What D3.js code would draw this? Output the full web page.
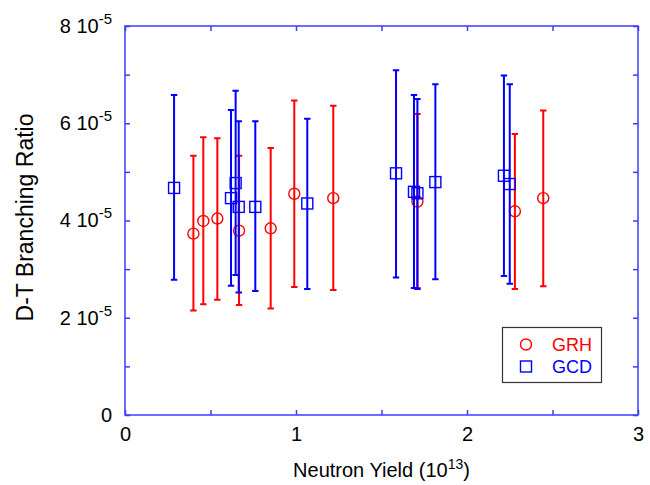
<!DOCTYPE html>
<html lang="en">
<head>
  <meta charset="UTF-8">
  <title>D-T Branching Ratio vs Neutron Yield</title>
  <script src="https://unpkg.com/d3@7/dist/d3.min.js"></script>
  <style>
    body { margin: 0; background: #fff; }
    svg text { font-family: "Liberation Sans", Arial, sans-serif; fill: #000; }
  </style>
</head>
<body>
  <svg id="chart" width="650" height="485"></svg>
  <script>
    // values, branching ratio in units of 1e-5
    const grhX  = [0.40, 0.458, 0.54, 0.667, 0.852, 0.99, 1.218, 1.71, 2.28, 2.446];
    const grhY  = [3.73, 3.99, 4.04, 3.79, 3.84, 4.55, 4.46, 4.39, 4.19, 4.46];
    const grhLo = [2.15, 2.28, 2.37, 2.26, 2.19, 2.63, 2.57, 2.61, 2.59, 2.65];
    const grhHi = [5.33, 5.71, 5.69, 5.33, 5.49, 6.47, 6.36, 6.19, 5.78, 6.26];

    const gcdX  = [0.287, 0.62, 0.647, 0.665, 0.762, 1.066, 1.585, 1.69, 1.71, 1.815, 2.216, 2.25];
    const gcdY  = [4.67, 4.46, 4.77, 4.28, 4.28, 4.35, 4.97, 4.59, 4.56, 4.79, 4.92, 4.75];
    const gcdLo = [2.78, 2.66, 2.88, 2.52, 2.55, 2.59, 2.83, 2.61, 2.59, 2.79, 2.86, 2.70];
    const gcdHi = [6.58, 6.27, 6.67, 6.04, 6.04, 6.09, 7.09, 6.58, 6.50, 6.80, 6.98, 6.80];

    const xTicks = [0, 0.5, 1, 1.5, 2, 2.5, 3];
    const xTickLabels = [0, 1, 2, 3];
    const yTicks = [0, 1, 2, 3, 4, 5, 6, 7, 8];
    const yTickLabels = [0, 2, 4, 6, 8];

    const svg = d3.select('#chart');
    const plotL = 125, plotR = 638, plotT = 26, plotB = 415;
    const frameColor = '#3c3cff';

    const x = d3.scaleLinear().domain([0, 3]).range([plotL, plotR]);
    const y = d3.scaleLinear().domain([0, 8]).range([plotB, plotT]);

    // inward ticks on all four sides
    const tickAxes = [
      [d3.axisBottom(x).tickValues(xTicks).tickSize(-5), `translate(0,${plotB})`],
      [d3.axisTop(x).tickValues(xTicks).tickSize(-5), `translate(0,${plotT})`],
      [d3.axisLeft(y).tickValues(yTicks).tickSize(-5), `translate(${plotL},0)`],
      [d3.axisRight(y).tickValues(yTicks).tickSize(-5), `translate(${plotR},0)`]
    ];
    tickAxes.forEach(([ax, tr]) => {
      const g = svg.append('g').attr('transform', tr).call(ax.tickFormat(''));
      g.select('.domain').remove();
      g.selectAll('.tick line').attr('stroke', frameColor).attr('stroke-width', 1.5);
    });

    svg.append('rect')
      .attr('x', plotL).attr('y', plotT)
      .attr('width', plotR - plotL).attr('height', plotB - plotT)
      .attr('fill', 'none')
      .attr('stroke', frameColor)
      .attr('stroke-width', 1.5);

    // tick labels
    const xLab = svg.append('g')
      .attr('transform', `translate(0,${plotB})`)
      .call(d3.axisBottom(x).tickValues(xTickLabels).tickSize(0).tickPadding(12).tickFormat(d3.format('d')));
    xLab.select('.domain').remove();
    xLab.selectAll('text').attr('font-size', 20).attr('font-family', '"Liberation Sans", Arial, sans-serif').attr('fill', '#000');

    const yLab = svg.append('g')
      .attr('transform', `translate(${plotL},0)`)
      .call(d3.axisLeft(y).tickValues(yTickLabels).tickSize(0).tickPadding(13).tickFormat(''));
    yLab.select('.domain').remove();
    yLab.selectAll('.tick text')
      .attr('font-size', 20)
      .attr('font-family', '"Liberation Sans", Arial, sans-serif')
      .attr('fill', '#000')
      .each(function(d) {
        const t = d3.select(this);
        if (d === 0) { t.text('0'); return; }
        t.append('tspan').text(`${d} 10`);
        t.append('tspan').attr('font-size', 15).attr('dy', -9).text('-5');
      });

    // axis titles
    svg.append('text')
      .attr('x', (plotL + plotR) / 2).attr('y', 477)
      .attr('text-anchor', 'middle')
      .attr('font-size', 20)
      .call(t => {
        t.append('tspan').text('Neutron Yield (10');
        t.append('tspan').attr('font-size', 14).attr('dy', -8).text('13');
        t.append('tspan').attr('dy', 8).text(')');
      });

    svg.append('text')
      .attr('transform', `translate(33,${(plotT + plotB) / 2 - 3}) rotate(-90)`)
      .attr('text-anchor', 'middle')
      .attr('font-size', 23)
      .text('D-T Branching Ratio');

    // error bars + markers
    const cap = 3.2;
    function drawSeries(xs, ys, lo, hi, color, marker) {
      const data = xs.map((v, i) => ({ x: v, y: ys[i], lo: lo[i], hi: hi[i] }));
      const g = svg.append('g').attr('stroke', color).attr('fill', 'none');
      g.selectAll('.bar').data(data).enter().append('path')
        .attr('stroke-width', 2)
        .attr('d', d => {
          const cx = x(d.x), y0 = y(d.lo), y1 = y(d.hi);
          return `M${cx},${y0}V${y1}M${cx - cap},${y1}H${cx + cap}M${cx - cap},${y0}H${cx + cap}`;
        });
      if (marker === 'circle') {
        g.selectAll('.m').data(data).enter().append('circle')
          .attr('cx', d => x(d.x)).attr('cy', d => y(d.y))
          .attr('r', 5.5).attr('stroke-width', 1.4);
      } else {
        g.selectAll('.m').data(data).enter().append('rect')
          .attr('x', d => x(d.x) - 5.5).attr('y', d => y(d.y) - 5.5)
          .attr('width', 11).attr('height', 11).attr('stroke-width', 1.4);
      }
    }
    drawSeries(grhX, grhY, grhLo, grhHi, '#ff0000', 'circle');
    drawSeries(gcdX, gcdY, gcdLo, gcdHi, '#0000ff', 'square');

    // legend
    const lg = svg.append('g');
    lg.append('rect')
      .attr('x', 502.5).attr('y', 327.5).attr('width', 99).attr('height', 55)
      .attr('fill', '#fff').attr('stroke', '#333').attr('stroke-width', 1.2);
    lg.append('circle').attr('cx', 526).attr('cy', 344.5).attr('r', 5.5)
      .attr('fill', 'none').attr('stroke', '#ff0000').attr('stroke-width', 1.4);
    lg.append('rect').attr('x', 520.5).attr('y', 361).attr('width', 11).attr('height', 11)
      .attr('fill', 'none').attr('stroke', '#0000ff').attr('stroke-width', 1.4);
    lg.append('text').attr('x', 552).attr('y', 351).attr('font-size', 18)
      .style('fill', '#ff0000').text('GRH');
    lg.append('text').attr('x', 552).attr('y', 373).attr('font-size', 18)
      .style('fill', '#0000ff').text('GCD');
  </script>
</body>
</html>
